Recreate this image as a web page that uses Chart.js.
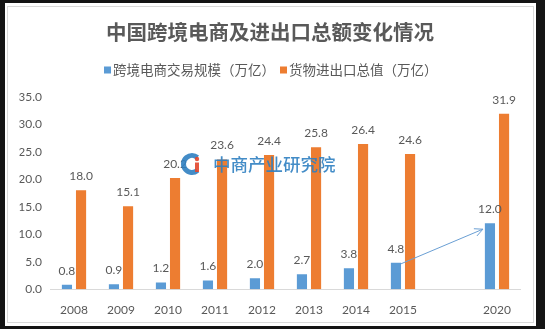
<!DOCTYPE html>
<html>
<head>
<meta charset="utf-8">
<script src="https://cdn.jsdelivr.net/npm/chart.js@4.4.0/dist/chart.umd.min.js"></script>
<style>
    html, body { margin: 0; padding: 0; background: #141414; }
    #wrap { width: 545px; height: 329px; }
</style>
</head>
<body>
<div id="wrap"><canvas id="barChart" width="545" height="329"></canvas></div>
<script>
var years = ["2008", "2009", "2010", "2011", "2012", "2013", "2014", "2015", "", "2020"];
var ecomValues = [0.8, 0.9, 1.2, 1.6, 2.0, 2.7, 3.8, 4.8, null, 12.0];
var tradeValues = [18.0, 15.1, 20.2, 23.6, 24.4, 25.8, 26.4, 24.6, null, 31.9];
var yTicks = [0, 5, 10, 15, 20, 25, 30, 35];
var seriesNames = ["跨境电商交易规模（万亿）", "货物进出口总值（万亿）"];

var textGrey = "#595959";
var numFont = "Lato, 'Liberation Sans', sans-serif";
var cjkFont = "'Noto Sans CJK SC', sans-serif";

document.addEventListener("DOMContentLoaded", function () {
    // frame: dark outer edge, white card, thin grey border
    var framePlugin = {
        id: "frame",
        beforeDraw: function (chart) {
            var c = chart.ctx;
            c.save();
            c.fillStyle = "#141414";
            c.fillRect(0, 0, chart.width, chart.height);
            c.fillStyle = "#ffffff";
            c.fillRect(5, 3, 531, 323);
            c.strokeStyle = "#d9d9d9";
            c.lineWidth = 1;
            c.strokeRect(7.5, 6.5, 526, 316);
            c.restore();
        }
    };

    // legend row under the title
    var legendPlugin = {
        id: "legendRow",
        afterDraw: function (chart) {
            var c = chart.ctx;
            var x = 104, y = 70;
            c.save();
            c.font = "13.5px " + cjkFont;
            c.textBaseline = "middle";
            c.textAlign = "left";
            chart.data.datasets.forEach(function (ds) {
                c.fillStyle = ds.backgroundColor;
                c.fillRect(x, y - 3.5, 7, 7);
                x += 9;
                c.fillStyle = textGrey;
                c.fillText(ds.label, x, y);
                x += c.measureText(ds.label).width + 5;
            });
            c.restore();
        }
    };

    // value labels above bars and the arrow 2015 -> 2020
    var labelPlugin = {
        id: "valueLabels",
        afterDatasetsDraw: function (chart) {
            var c = chart.ctx;
            c.save();
            c.font = "12px " + numFont;
            c.fillStyle = textGrey;
            c.textAlign = "center";
            c.textBaseline = "middle";
            chart.data.datasets.forEach(function (ds, i) {
                chart.getDatasetMeta(i).data.forEach(function (bar, j) {
                    var v = ds.data[j];
                    if (v === null) return;
                    c.fillText(v.toFixed(1), bar.x, bar.y - 14);
                });
            });

            var bars = chart.getDatasetMeta(0).data;
            var a = bars[7], b = bars[9];
            var x1 = a.x + a.width / 2, y1 = a.y + 1;
            var x2 = b.x - b.width / 2 - 2, y2 = b.y + 6;
            var ang = Math.atan2(y2 - y1, x2 - x1);
            c.strokeStyle = "#6a9fd4";
            c.lineWidth = 1;
            c.beginPath();
            c.moveTo(x1, y1);
            c.lineTo(x2, y2);
            c.moveTo(x2 - 9 * Math.cos(ang - 0.45), y2 - 9 * Math.sin(ang - 0.45));
            c.lineTo(x2, y2);
            c.lineTo(x2 - 9 * Math.cos(ang + 0.45), y2 - 9 * Math.sin(ang + 0.45));
            c.stroke();
            c.restore();
        }
    };

    // watermark
    var watermarkPlugin = {
        id: "watermark",
        afterDraw: function (chart) {
            var c = chart.ctx;
            var cx = 192, cy = 164;
            c.save();
            c.globalAlpha = 0.9;
            c.strokeStyle = "#2f7fc1";
            c.lineWidth = 5;
            c.beginPath();
            c.arc(cx, cy, 8.5, Math.PI * 0.28, Math.PI * 1.72);
            c.stroke();
            c.fillStyle = "#e2462b";
            c.beginPath();
            c.arc(cx + 5, cy - 5, 2.2, 0, Math.PI * 2);
            c.fill();
            c.fillRect(cx + 3, cy - 1.5, 4, 9.5);
            c.fillStyle = "#2f7fc1";
            c.font = "500 17.5px " + cjkFont;
            c.textAlign = "left";
            c.textBaseline = "middle";
            c.fillText("中商产业研究院", 213, cy);
            c.restore();
        }
    };

    var ctx = document.getElementById("barChart").getContext("2d");
    new Chart(ctx, {
        type: "bar",
        data: {
            labels: years,
            datasets: [{
                label: seriesNames[0],
                data: ecomValues,
                backgroundColor: "#5b9bd5"
            }, {
                label: seriesNames[1],
                data: tradeValues,
                backgroundColor: "#ed7d31"
            }]
        },
        options: {
            responsive: false,
            animation: false,
            devicePixelRatio: 1,
            categoryPercentage: 0.6,
            barPercentage: 0.72,
            layout: { padding: { left: 19.5, right: 24.5, top: 0, bottom: 11.8 } },
            plugins: {
                legend: { display: false },
                tooltip: { enabled: false },
                title: {
                    display: true,
                    text: "中国跨境电商及进出口总额变化情况",
                    color: textGrey,
                    font: { family: cjkFont, size: 20.5, weight: "bold" },
                    padding: { top: 19.7, bottom: 52.4 }
                }
            },
            scales: {
                x: {
                    grid: { display: false, drawTicks: false },
                    border: { display: true, color: "#d9d9d9", width: 1 },
                    afterFit: function (s) { s.height = 28; },
                    ticks: { color: textGrey, font: { family: numFont, size: 12 }, padding: 13.6 }
                },
                y: {
                    min: 0,
                    max: 35,
                    grid: { display: false, drawTicks: false },
                    border: { display: false },
                    afterBuildTicks: function (s) {
                        s.ticks = yTicks.map(function (v) { return { value: v }; });
                    },
                    afterFit: function (s) { s.width = 31; },
                    ticks: {
                        color: textGrey,
                        font: { family: numFont, size: 12 },
                        padding: 8.5,
                        callback: function (v) { return Number(v).toFixed(1); }
                    }
                }
            }
        },
        plugins: [framePlugin, legendPlugin, labelPlugin, watermarkPlugin]
    });
});
</script>
</body>
</html>
